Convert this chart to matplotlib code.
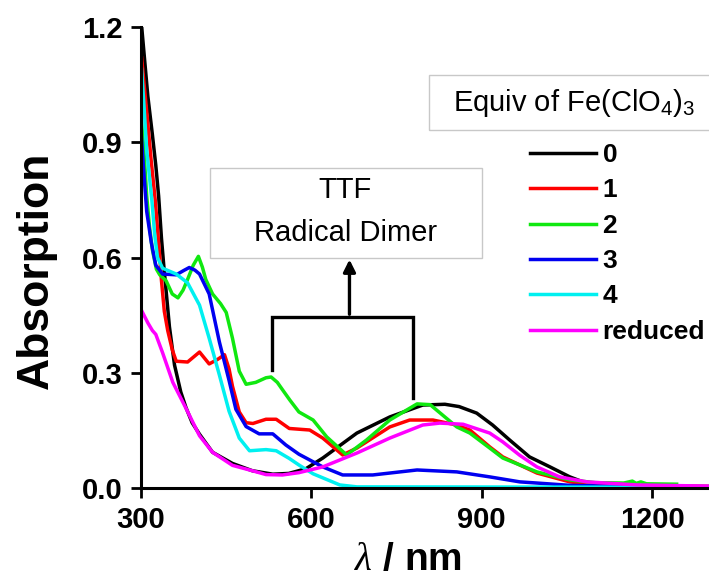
import matplotlib
matplotlib.use("Agg")
import matplotlib.pyplot as plt
from matplotlib.patches import Rectangle

plt.rcParams['font.family'] = ['Liberation Sans', 'DejaVu Sans']
plt.rcParams['mathtext.fontset'] = 'custom'
plt.rcParams['mathtext.rm'] = 'Liberation Sans'
plt.rcParams['mathtext.it'] = 'Liberation Serif:italic'
plt.rcParams['mathtext.bf'] = 'Liberation Sans:bold'

# spectra (wavelength in nm, absorption)
wl_0 = [300, 306, 312, 320, 326, 331, 336, 340, 345, 350, 359, 370, 379, 390, 403, 426, 461, 496, 532, 560, 590,
        620, 680, 738, 796, 835, 860, 891, 919, 949, 984, 1020, 1055, 1078, 1120, 1200, 1300]
abs_0 = [1.22, 1.12, 1.02, 0.92, 0.84, 0.76, 0.65, 0.58, 0.50, 0.42, 0.32, 0.25, 0.21, 0.17, 0.14, 0.093, 0.064,
         0.045, 0.036, 0.038, 0.05, 0.078, 0.143, 0.185, 0.216, 0.218, 0.212, 0.195, 0.164, 0.125, 0.081, 0.055,
         0.029, 0.016, 0.008, 0.005, 0.004]

wl_1 = [301, 310, 318, 325, 332, 336, 341, 347, 355, 362, 382, 403, 420, 435, 447, 455, 461, 473, 485, 497, 520,
        538, 561, 597, 620, 655, 680, 738, 773, 814, 856, 879, 914, 937, 997, 1055, 1100, 1200, 1300]
abs_1 = [1.12, 0.98, 0.85, 0.75, 0.62, 0.54, 0.46, 0.41, 0.36, 0.33, 0.328, 0.354, 0.323, 0.335, 0.347, 0.31,
         0.265, 0.198, 0.17, 0.168, 0.179, 0.179, 0.155, 0.151, 0.13, 0.086, 0.104, 0.159, 0.177, 0.177, 0.164,
         0.151, 0.107, 0.081, 0.039, 0.016, 0.008, 0.005, 0.004]

wl_2 = [300, 305, 310, 315, 320, 327, 333, 344, 355, 365, 374, 382, 392, 401, 408, 414, 426, 440, 450, 461, 473,
        485, 502, 520, 529, 540, 549, 562, 578, 603, 627, 662, 697, 738, 786, 809, 856, 879, 914, 937, 997, 1055,
        1100, 1150, 1165, 1172, 1180, 1190, 1243]
abs_2 = [0.97, 0.88, 0.76, 0.68, 0.62, 0.57, 0.555, 0.54, 0.505, 0.495, 0.515, 0.543, 0.58, 0.603, 0.575, 0.543,
         0.505, 0.48, 0.457, 0.39, 0.304, 0.27, 0.275, 0.287, 0.289, 0.275, 0.256, 0.229, 0.198, 0.177, 0.133,
         0.086, 0.125, 0.177, 0.219, 0.217, 0.159, 0.143, 0.104, 0.078, 0.042, 0.021, 0.014, 0.013, 0.018, 0.012,
         0.016, 0.011, 0.01]

wl_3 = [300, 305, 310, 318, 326, 338, 362, 375, 385, 395, 403, 420, 438, 455, 467, 485, 508, 532, 555, 578, 620,
        655, 708, 786, 856, 914, 967, 997, 1055, 1150, 1300]
abs_3 = [0.93, 0.82, 0.72, 0.64, 0.58, 0.557, 0.555, 0.566, 0.574, 0.567, 0.557, 0.505, 0.38, 0.28, 0.205, 0.16,
         0.141, 0.141, 0.112, 0.088, 0.055, 0.034, 0.034, 0.047, 0.042, 0.029, 0.016, 0.013, 0.007, 0.004, 0.003]

wl_4 = [301, 305, 310, 319, 324, 329, 338, 362, 382, 403, 420, 438, 455, 473, 491, 520, 538, 561, 578, 603, 650,
        680, 1300]
abs_4 = [1.09, 1.0, 0.88, 0.75, 0.66, 0.60, 0.572, 0.557, 0.534, 0.476, 0.39, 0.294, 0.2, 0.13, 0.097, 0.1,
         0.097, 0.077, 0.06, 0.037, 0.008, 0.003, 0.002]

wl_red = [301, 312, 320, 326, 338, 356, 379, 403, 426, 461, 496, 520, 549, 578, 620, 680, 738, 796, 826, 867, 914,
          937, 967, 997, 1037, 1085, 1173, 1300]
abs_red = [0.462, 0.43, 0.41, 0.40, 0.352, 0.275, 0.208, 0.136, 0.093, 0.059, 0.045, 0.035, 0.034, 0.04, 0.055,
           0.091, 0.13, 0.164, 0.169, 0.166, 0.143, 0.12, 0.085, 0.055, 0.029, 0.016, 0.008, 0.005]

labels = ['0', '1', '2', '3', '4', 'reduced']
colors = ['#000000', '#ff0000', '#10e810', '#0000f0', '#00f0f0', '#ff00ff']
series = [(wl_0, abs_0), (wl_1, abs_1), (wl_2, abs_2), (wl_3, abs_3), (wl_4, abs_4), (wl_red, abs_red)]

fig = plt.figure(figsize=(7.09, 5.77), dpi=100)
ax = fig.add_axes([0.1989, 0.1542, 0.8011, 0.799])

lines = []
for (x, y), c, lab in zip(series, colors, labels):
    ln, = ax.plot(x, y, color=c, lw=2.5, label=lab)
    lines.append(ln)

ax.set_xlim(300, 1300)
ax.set_ylim(0, 1.2)
ax.set_xticks([300, 600, 900, 1200])
ax.set_yticks([0.0, 0.3, 0.6, 0.9, 1.2])
ax.set_yticklabels(['0.0', '0.3', '0.6', '0.9', '1.2'])
for s in ['top', 'right']:
    ax.spines[s].set_visible(False)
for s in ['left', 'bottom']:
    ax.spines[s].set_linewidth(2.2)
ax.tick_params(direction='out', length=7, width=2, labelsize=21, pad=6)
for t in ax.get_xticklabels() + ax.get_yticklabels():
    t.set_fontweight('bold')

ax.set_ylabel('Absorption', fontsize=32, fontweight='bold')
ax.yaxis.set_label_coords(-0.148, 0.473)
ax.set_xlabel(r'$\lambda$ / nm', fontsize=28, fontweight='bold')
ax.xaxis.set_label_coords(0.47, -0.118)

# TTF radical dimer annotation
ax.add_patch(Rectangle((421, 0.599), 479, 0.234, fill=False, edgecolor='#c8c8c8', lw=1.0, clip_on=False))
ax.text(660, 0.775, 'TTF', ha='center', va='center', fontsize=21)
ax.text(660, 0.665, 'Radical Dimer', ha='center', va='center', fontsize=21)
ax.plot([530, 530, 779, 779], [0.307, 0.445, 0.445, 0.234], color='black', lw=2.4, solid_joinstyle='miter')
ax.annotate('', xy=(667, 0.602), xytext=(667, 0.445),
            arrowprops=dict(arrowstyle='-|>', lw=2.4, color='black', mutation_scale=18))

# legend with boxed title
fig.patches.append(Rectangle((429 / 709, 1 - 130 / 577), 290 / 709, 55 / 577, fill=False,
                             edgecolor='#c8c8c8', lw=1.0, transform=fig.transFigure, figure=fig))
fig.text(574 / 709, 1 - 103 / 577, r'Equiv of Fe(ClO$_4$)$_3$', ha='center', va='center', fontsize=21)
leg = ax.legend(handles=lines, loc='upper left', bbox_to_anchor=(0.7475, 0.752), bbox_transform=fig.transFigure,
                frameon=False, borderpad=0, borderaxespad=0, handlelength=2.5, handletextpad=0.25,
                labelspacing=0.43, prop={'size': 19, 'weight': 'bold'})
for h in leg.get_lines():
    h.set_linewidth(2.5)

fig.savefig('out.png', dpi=100)
